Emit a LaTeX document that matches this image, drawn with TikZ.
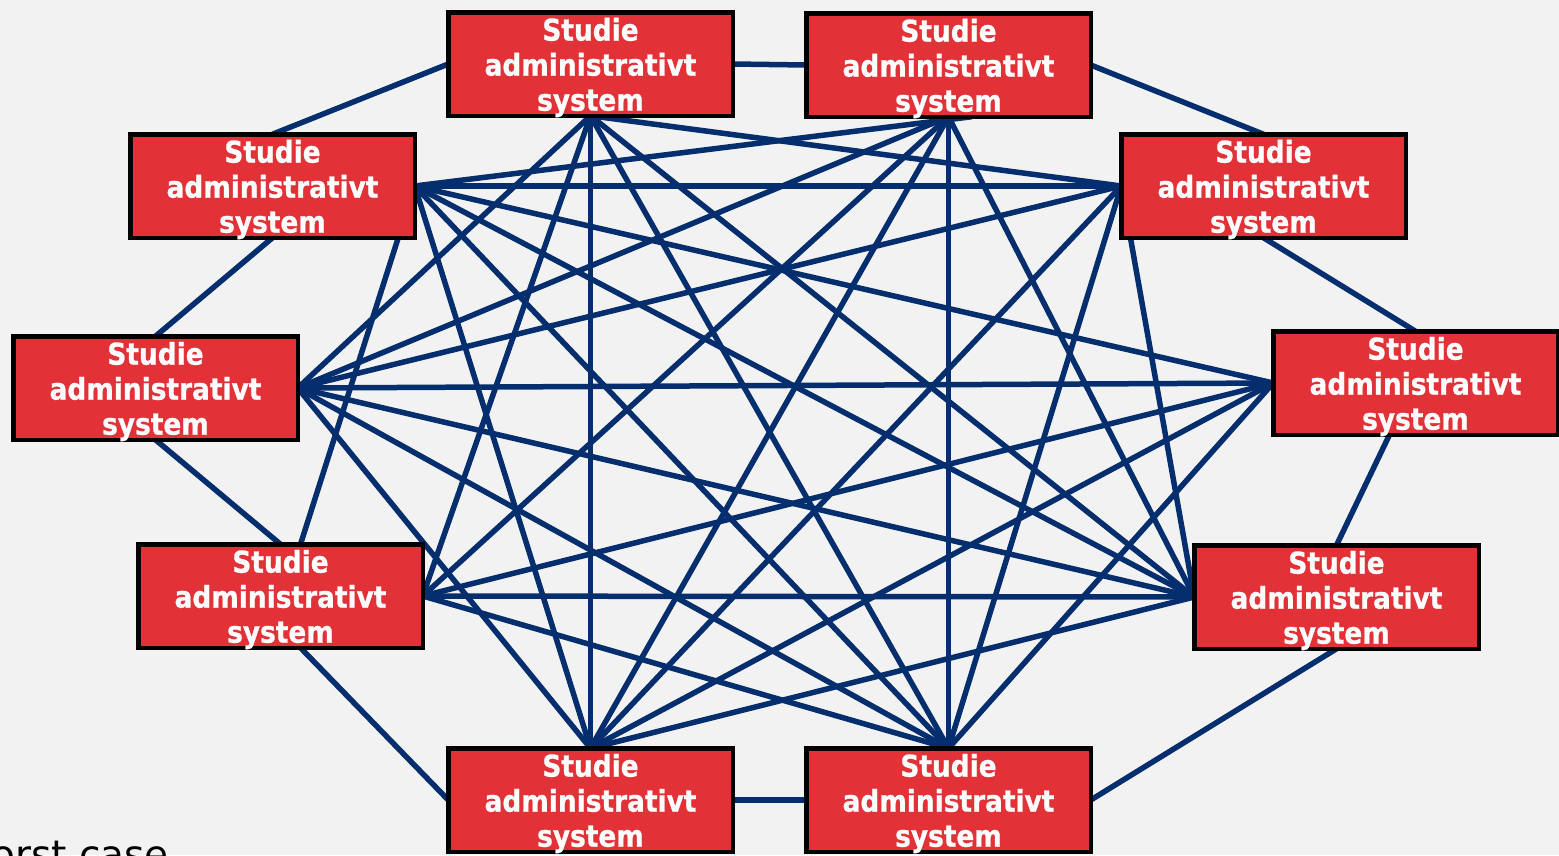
\documentclass[tikz,border=0pt]{standalone}
\usepackage{fontspec}
\newfontfamily\boxfont[FakeStretch=0.88,FakeBold=0.8]{DejaVu Sans}
\newfontfamily\plainfont{DejaVu Sans}
\usetikzlibrary{calc}
\definecolor{bgcol}{RGB}{242,242,242}
\definecolor{boxred}{RGB}{227,49,56}
\definecolor{navy}{RGB}{4,46,110}
\pgfdeclarelayer{back}
\pgfdeclarelayer{lines}
\pgfsetlayers{back,lines,main}
\tikzset{
  sysbox/.style={draw=black, line width=4.5pt, fill=boxred, minimum width=284.5pt,
    minimum height=103.5pt, inner sep=0pt, outer sep=0pt},
  boxtext/.style={align=center, text=white, inner sep=0pt,
    font=\boxfont\bfseries\fontsize{30}{35}\selectfont},
  link/.style={draw=navy, line width=5.5pt},
  notetext/.style={font=\plainfont\fontsize{39}{45}\selectfont, text=black, inner sep=0pt},
}
\begin{document}
\begin{tikzpicture}[x=1pt,y=-1pt]
\useasboundingbox (0,0) rectangle (1559,855);
\begin{pgfonlayer}{back}
\fill[bgcol] (0,0) rectangle (1559,855);
\end{pgfonlayer}
\clip (0,0) rectangle (1559,855);

\node[sysbox] (T1) at (590.5,64) {};
\node[sysbox] (T2) at (948.5,65) {};
\node[sysbox] (UL) at (272.5,186) {};
\node[sysbox] (UR) at (1263.5,186) {};
\node[sysbox] (L) at (155.5,388) {};
\node[sysbox] (R) at (1415.5,383) {};
\node[sysbox] (LL) at (280.5,596) {};
\node[sysbox] (LR) at (1336.5,597) {};
\node[sysbox] (B1) at (590.5,800) {};
\node[sysbox] (B2) at (948.5,800) {};
\foreach \n in {T1,T2,UL,UR,L,R,LL,LR,B1,B2}
  \node[boxtext] (\n-text) at ($(\n.center)+(0,3.5)$) {Studie\\administrativt\\system};

\node[notetext, anchor=base east] (note) at (169,868) {Worst case};

\begin{pgfonlayer}{lines}
% hubs
\coordinate (hT1) at (T1.south);
\coordinate (hT2) at (T2.south);
\coordinate (hUL) at (UL.east);
\coordinate (hUR) at (UR.west);
\coordinate (hL) at (L.east);
\coordinate (hR) at (R.west);
\coordinate (hLL) at (LL.east);
\coordinate (hLR) at (LR.west);
\coordinate (hB1) at (B1.north);
\coordinate (hB2) at (B2.north);
\coordinate (xT2) at ($(T2.south)+(23,0)$);
\coordinate (xLL) at ($(LL.north)+(20,0)$);
\coordinate (xR) at ($(R.south)+(-26,0)$);
\coordinate (xLLs) at ($(LL.south)+(20,0)$);

% ring
\draw[link] (T1.west) -- (UL.north);
\draw[link] (T1.east) -- (T2.west);
\draw[link] (T2.east) -- (UR.north);
\draw[link] (UR.south) -- (R.north);
\draw[link] (xR) -- (LR.north);
\draw[link] (LR.south) -- (B2.east);
\draw[link] (B2.west) -- (B1.east);
\draw[link] (B1.west) -- (xLLs);
\draw[link] (LL.north) -- (L.south);
\draw[link] (L.north) -- (UL.south);

% mesh
\foreach \a/\b in {hT1/hUR, hT1/hLR, hT1/hB2, hT1/hB1, hT1/hLL, hT1/hL,
  hUL/xT2, hT2/hL, hT2/hLL, hT2/hB1, hT2/hB2, hT2/hLR,
  hUR/hUL, hUR/hL, hUR/hB1, hUR/hB2, hUR/hLR,
  hR/hUL, hR/hL, hR/hLL, hR/hB1, hR/hB2,
  hLR/hUL, hLR/hL, hLR/hLL, hLR/hB1,
  hB2/hL, hB2/hLL, hB2/hUL,
  hB1/hL, hB1/hUL,
  hUL/xLL}
  \draw[link] (\a) -- (\b);
\end{pgfonlayer}
\end{tikzpicture}
\end{document}
